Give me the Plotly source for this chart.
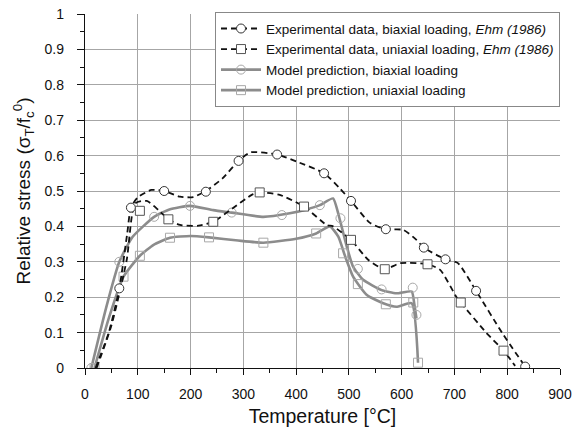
import plotly.graph_objects as go

# ---------------- data ----------------
# Experimental data, biaxial loading (dashed curve + circle markers)
exp_bi_line_T = [20, 45, 65, 80, 87, 100, 126, 150, 180, 205, 229, 260, 291, 313, 364, 401, 453, 483, 504, 540, 570, 603, 628, 642, 683, 706, 741, 790, 834]
exp_bi_line_y = [0.0, 0.10, 0.225, 0.38, 0.453, 0.482, 0.503, 0.50, 0.484, 0.483, 0.50, 0.535, 0.585, 0.609, 0.603, 0.583, 0.55, 0.507, 0.472, 0.41, 0.392, 0.39, 0.362, 0.34, 0.307, 0.297, 0.218, 0.10, 0.004]
exp_bi_pts_T = [65, 87, 150, 229, 291, 364, 453, 504, 570, 642, 683, 741, 834]
exp_bi_pts_y = [0.225, 0.453, 0.50, 0.498, 0.585, 0.603, 0.55, 0.472, 0.392, 0.34, 0.307, 0.218, 0.004]

# Experimental data, uniaxial loading (dashed curve + square markers)
exp_uni_line_T = [22, 50, 79, 95, 117, 140, 158, 180, 215, 243, 275, 316, 331, 369, 415, 458, 470, 504, 537, 568, 597, 649, 673, 704, 712, 760, 793, 815]
exp_uni_line_y = [0.0, 0.12, 0.305, 0.465, 0.472, 0.445, 0.42, 0.404, 0.402, 0.413, 0.446, 0.489, 0.496, 0.489, 0.456, 0.404, 0.40, 0.362, 0.305, 0.279, 0.296, 0.293, 0.277, 0.20, 0.185, 0.10, 0.049, 0.006]
exp_uni_pts_T = [104, 158, 243, 331, 415, 504, 568, 649, 712, 793]
exp_uni_pts_y = [0.444, 0.42, 0.413, 0.496, 0.456, 0.362, 0.279, 0.293, 0.185, 0.049]

# Model prediction, biaxial loading (solid grey curve + circle markers)
mod_bi_line_T = [12, 40, 65, 90, 131, 160, 199, 243, 278, 338, 388, 420, 445, 470, 483, 496, 508, 527, 562, 590, 619, 624, 628]
mod_bi_line_y = [0.0, 0.17, 0.30, 0.37, 0.427, 0.448, 0.458, 0.446, 0.439, 0.427, 0.437, 0.448, 0.46, 0.479, 0.418, 0.343, 0.286, 0.249, 0.22, 0.211, 0.216, 0.18, 0.14]
mod_bi_pts_T = [12, 65, 131, 199, 278, 373, 445, 484, 517, 562, 621, 628]
mod_bi_pts_y = [0.0, 0.30, 0.427, 0.458, 0.439, 0.432, 0.46, 0.423, 0.28, 0.222, 0.227, 0.15]

# Model prediction, uniaxial loading (solid grey curve + square markers)
mod_uni_line_T = [18, 45, 73, 104, 130, 161, 200, 235, 290, 338, 400, 438, 464, 480, 493, 508, 534, 565, 590, 619, 631]
mod_uni_line_y = [0.0, 0.14, 0.258, 0.317, 0.348, 0.368, 0.373, 0.369, 0.36, 0.354, 0.365, 0.38, 0.40, 0.371, 0.315, 0.258, 0.206, 0.183, 0.173, 0.183, 0.015]
mod_uni_pts_T = [18, 73, 104, 161, 235, 338, 438, 489, 517, 570, 622, 631]
mod_uni_pts_y = [0.0, 0.258, 0.317, 0.368, 0.369, 0.354, 0.38, 0.324, 0.237, 0.18, 0.185, 0.015]

legend_names = [
    "Experimental data, biaxial loading, <i>Ehm (1986)</i>",
    "Experimental data, uniaxial loading, <i>Ehm (1986)</i>",
    "Model prediction, biaxial loading",
    "Model prediction, uniaxial loading",
]

x_ticks = list(range(0, 1000, 100))
y_ticks = [round(0.1 * i, 1) for i in range(11)]

# ---------------- styles ----------------
BLACK = "#111111"
GREY = "#8c8c8c"
DASH = "6px,4px"
FONT = "Liberation Sans, Arial, sans-serif"

fig = go.Figure()

# model lines (drawn first, underneath)
fig.add_trace(go.Scatter(x=mod_bi_line_T, y=mod_bi_line_y, mode="lines",
                         line=dict(color=GREY, width=2.6, shape="spline", smoothing=0.5),
                         showlegend=False, hoverinfo="skip"))
fig.add_trace(go.Scatter(x=mod_uni_line_T, y=mod_uni_line_y, mode="lines",
                         line=dict(color=GREY, width=2.6, shape="spline", smoothing=0.5),
                         showlegend=False, hoverinfo="skip"))
fig.add_trace(go.Scatter(x=mod_bi_pts_T, y=mod_bi_pts_y, mode="markers",
                         marker=dict(symbol="circle-open", size=9, color="#a8a8a8", line=dict(width=1)),
                         showlegend=False))
fig.add_trace(go.Scatter(x=mod_uni_pts_T, y=mod_uni_pts_y, mode="markers",
                         marker=dict(symbol="square-open", size=9, color="#a8a8a8", line=dict(width=1)),
                         showlegend=False))

# experimental lines
fig.add_trace(go.Scatter(x=exp_bi_line_T, y=exp_bi_line_y, mode="lines",
                         line=dict(color=BLACK, width=1.8, dash=DASH, shape="spline", smoothing=0.6),
                         showlegend=False, hoverinfo="skip"))
fig.add_trace(go.Scatter(x=exp_uni_line_T, y=exp_uni_line_y, mode="lines",
                         line=dict(color=BLACK, width=1.8, dash=DASH, shape="spline", smoothing=0.6),
                         showlegend=False, hoverinfo="skip"))
fig.add_trace(go.Scatter(x=exp_bi_pts_T, y=exp_bi_pts_y, mode="markers",
                         marker=dict(symbol="circle", size=9, color="white", line=dict(width=1, color="#333333")),
                         showlegend=False))
fig.add_trace(go.Scatter(x=exp_uni_pts_T, y=exp_uni_pts_y, mode="markers",
                         marker=dict(symbol="square", size=9, color="white", line=dict(width=1, color="#555555")),
                         showlegend=False))

# legend entries
fig.add_trace(go.Scatter(x=[None], y=[None], mode="lines+markers", name=legend_names[0],
                         line=dict(color=BLACK, width=1.8, dash=DASH),
                         marker=dict(symbol="circle", size=9, color="white", line=dict(width=1, color="#333333"))))
fig.add_trace(go.Scatter(x=[None], y=[None], mode="lines+markers", name=legend_names[1],
                         line=dict(color=BLACK, width=1.8, dash=DASH),
                         marker=dict(symbol="square", size=9, color="white", line=dict(width=1, color="#555555"))))
fig.add_trace(go.Scatter(x=[None], y=[None], mode="lines+markers", name=legend_names[2],
                         line=dict(color=GREY, width=2.6),
                         marker=dict(symbol="circle-open", size=9, color="#a8a8a8", line=dict(width=1))))
fig.add_trace(go.Scatter(x=[None], y=[None], mode="lines+markers", name=legend_names[3],
                         line=dict(color=GREY, width=2.6),
                         marker=dict(symbol="square-open", size=9, color="#a8a8a8", line=dict(width=1))))

fig.update_layout(
    width=579, height=432,
    margin=dict(l=85, r=19, t=14, b=64, autoexpand=False),
    paper_bgcolor="white", plot_bgcolor="white",
    font=dict(family=FONT, color="#111111", size=14),
    showlegend=True,
    legend=dict(x=1, y=1.005, xanchor="right", yanchor="top",
                bgcolor="white", bordercolor="#888888", borderwidth=1,
                font=dict(size=13.5, family=FONT), tracegroupgap=0,
                itemwidth=40),
    xaxis=dict(range=[0, 900], tickvals=x_ticks, ticks="outside", ticklen=6, tickwidth=1.2,
               tickcolor="#111111", showline=True, linecolor="#111111", linewidth=1.3,
               showgrid=True, gridcolor="#a6a6a6", gridwidth=1, zeroline=False,
               automargin=False,
               tickfont=dict(size=14), ticklabelstandoff=7,
               minor=dict(dtick=50, tick0=0, ticks="outside", ticklen=4, tickcolor="#111111", showgrid=False),
               title=dict(text="Temperature [°C]", font=dict(size=19.5), standoff=8)),
    yaxis=dict(range=[0, 1], tickvals=y_ticks, ticks="outside", ticklen=7, tickwidth=1.2,
               tickcolor="#111111", showline=True, linecolor="#111111", linewidth=1.3,
               showgrid=True, gridcolor="#a6a6a6", gridwidth=1, zeroline=False,
               automargin=False,
               tickfont=dict(size=14), ticklabelstandoff=10,
               minor=dict(dtick=0.05, tick0=0, ticks="outside", ticklen=4, tickcolor="#111111", showgrid=False),
               title=dict(text="Relative stress (σ<sub>T</sub>/f<sub>c</sub><sup>0</sup>)", font=dict(size=19), standoff=8)),
)

fig.write_html("out.html")
